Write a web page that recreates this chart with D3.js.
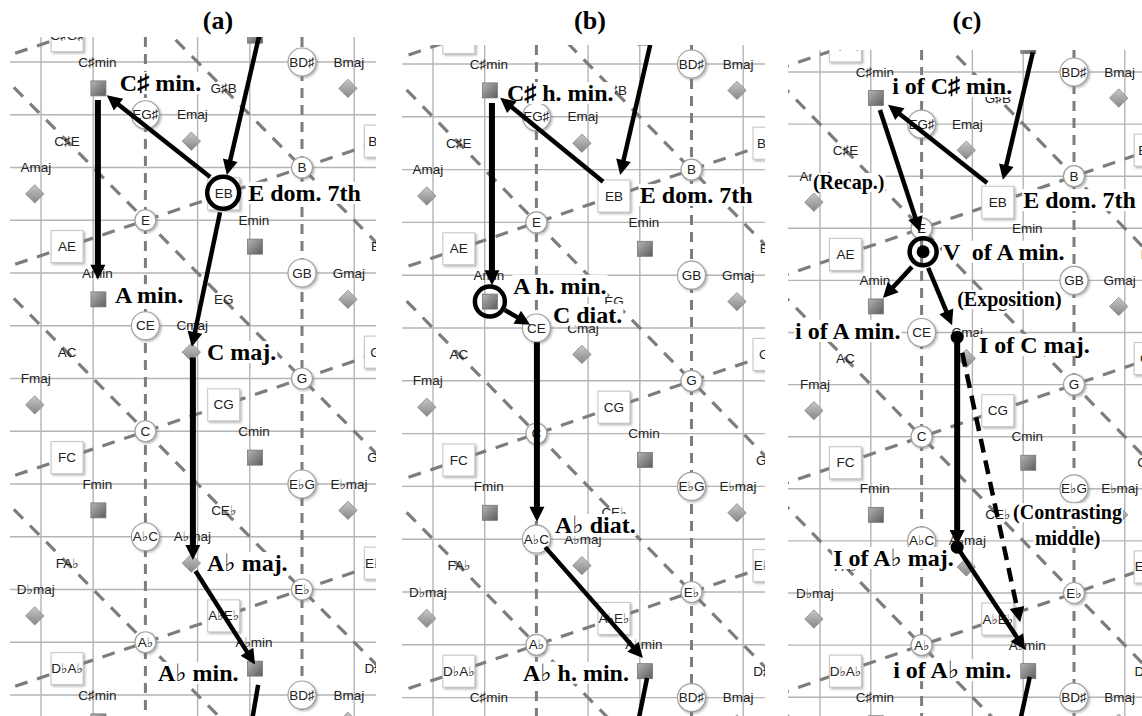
<!DOCTYPE html>
<html>
<head>
<meta charset="utf-8">
<script src="https://cdn.jsdelivr.net/npm/d3@7"></script>
<style>
  body { margin: 0; background: #fff; }
  svg { display: block; }
</style>
</head>
<body>
<svg id="chart" width="1142" height="716"></svg>
<script>
// ---- lattice content, in lattice units (u = column, v = row) ----
const gridCols = [0, 1, 2, 3, 4, 5, 6];
const gridRows = [0, 1, 2, 3, 4, 5, 6, 7, 8, 9, 10, 11, 12];
const dashedCols = [2, 5];
const thirdAxes = [-7, -3, 1, 5, 9, 13];              // descending lines: v - u = k
const fifthAxes = [-0.33, 3.67, 7.67, 11.67, 15.67];  // ascending lines: v + u/3 = k

const minorChords = [["C♯min", 1, 0], ["Amin", 1, 4], ["Fmin", 1, 8], ["C♯min", 1, 12],
  ["G♯min", 4, -1], ["Emin", 4, 3], ["Cmin", 4, 7], ["A♭min", 4, 11]];
const majorChords = [["Bmaj", 6, 0], ["Emaj", 3, 1], ["Amaj", 0, 2], ["Gmaj", 6, 4],
  ["Cmaj", 3, 5], ["Fmaj", 0, 6], ["E♭maj", 6, 8], ["A♭maj", 3, 9], ["D♭maj", 0, 10], ["Bmaj", 6, 12]];
const fifthBoxes = [["C♯G♯", 0.5, -0.5], ["AE", 0.5, 3.5], ["FC", 0.5, 7.5], ["D♭A♭", 0.5, 11.5],
  ["EB", 3.5, 2.5], ["CG", 3.5, 6.5], ["A♭E♭", 3.5, 10.5],
  ["BF♯", 6.5, 1.5], ["GD", 6.5, 5.5], ["E♭B♭", 6.5, 9.5]];
const minorThirds = [["C♯E", 0.5, 1.5], ["AC", 0.5, 5.5], ["FA♭", 0.5, 9.5],
  ["G♯B", 3.5, 0.5], ["EG", 3.5, 4.5], ["CE♭", 3.5, 8.5],
  ["BD", 6.5, 3.5], ["GB♭", 6.5, 7.5], ["D♯F♯", 6.5, 11.5]];
const noteCircles = [["EG♯", 2, 1], ["E", 2, 3], ["CE", 2, 5], ["C", 2, 7], ["A♭C", 2, 9], ["A♭", 2, 11],
  ["BD♯", 5, 0], ["B", 5, 2], ["GB", 5, 4], ["G", 5, 6], ["E♭G", 5, 8], ["E♭", 5, 10], ["BD♯", 5, 12]];

// ---- paths: [kind, u1, v1, u2, v2] ----
const arrowsA = [
  ["solid", 4.18, -0.5, 3.56, 2.14],
  ["solid", 3.24, 2.18, 1.26, 0.63],
  ["solid", 3.43, 2.85, 2.89, 5.4],
  ["heavy", 1.09, 0.72, 1.09, 4.13],
  ["heavy", 2.91, 5.6, 2.91, 9.44],
  ["solid", 2.96, 9.65, 4.1, 11.42],
  ["tail", 4.16, 11.81, 4.04, 12.5]
];
const arrowsB = [
  ["solid", 4.2, -0.36, 3.62, 2.1],
  ["solid", 3.29, 2.23, 1.3, 0.64],
  ["heavy", 1.14, 0.74, 1.14, 4.19],
  ["solid", 1.39, 4.66, 1.88, 4.94],
  ["heavy", 2.01, 5.27, 2.01, 8.67],
  ["solid", 2.17, 9.15, 4.06, 11.25],
  ["tail", 4.14, 11.63, 3.97, 12.45]
];
const arrowsC = [
  ["solid", 4.19, -0.38, 3.6, 2.07],
  ["solid", 3.29, 2.13, 1.34, 0.63],
  ["solid", 1.18, 0.73, 1.97, 3.07],
  ["solid", 1.81, 3.74, 1.24, 4.34],
  ["solid", 2.13, 3.76, 2.6, 4.86],
  ["heavy", 2.7, 5.15, 2.7, 9.08],
  ["solid", 2.76, 9.21, 4.04, 11.09],
  ["dashed", 2.8, 5.39, 3.94, 10.56],
  ["tail", 4.13, 11.61, 3.94, 12.45]
];

// ---- annotations: [text, u, v] (left edge, vertical centre) ----
const labelsA = [["C♯ min.", 1.51, 0.4], ["E dom. 7th", 3.97, 2.48], ["A min.", 1.42, 4.42],
  ["C maj.", 3.18, 5.5], ["A♭ maj.", 3.18, 9.5], ["A♭ min.", 2.24, 11.58]];
const labelsB = [["C♯ h. min.", 1.43, 0.55], ["E dom. 7th", 4.0, 2.48], ["A h. min.", 1.55, 4.2],
  ["C diat.", 2.32, 4.75], ["A♭ diat.", 2.36, 8.73], ["A♭ h. min.", 1.74, 11.53]];
const labelsC = [["i of C♯ min.", 1.42, 0.27], ["(Recap.)", -0.14, 2.11], ["E dom. 7th", 4.0, 2.46],
  ["V  of A min.", 2.42, 3.45], ["(Exposition)", 2.7, 4.36], ["i of A min.", -0.49, 4.97],
  ["I of C maj.", 3.13, 5.24], ["(Contrasting", 3.8, 8.45], ["middle)", 4.23, 8.94],
  ["I of A♭ maj.", 0.26, 9.33], ["i of A♭ min.", 1.44, 11.48]];

const ringsA = [[3.49, 2.48]];
const ringsB = [[1.1, 4.5]];
const ringsC = [[2.03, 3.45]];
const dotsC = [[2.03, 3.45], [2.7, 5.09], [2.7, 9.12]];

const panels = [
  { title: "(a)", tx: 218, left: 10, right: 376, top: 37, x0: 41, dx: 52.2, y0: 62, dy: 52.75,
    arrows: arrowsA, labels: labelsA, rings: ringsA, dots: [], ringR: 16 },
  { title: "(b)", tx: 590, left: 402, right: 765, top: 45, x0: 433, dx: 51.7, y0: 64, dy: 52.8,
    arrows: arrowsB, labels: labelsB, rings: ringsB, dots: [], ringR: 15 },
  { title: "(c)", tx: 967, left: 788, right: 1142, top: 50, x0: 820, dx: 50.8, y0: 72, dy: 52.1,
    arrows: arrowsC, labels: labelsC, rings: ringsC, dots: dotsC, ringR: 13.5 }
];

const H = 716;
const smallFont = "'Liberation Sans', 'DejaVu Sans', sans-serif";
const boldFont = "'Liberation Serif', 'DejaVu Serif', serif";
const smallSize = "13.5px";

const svg = d3.select("#chart");
const defs = svg.append("defs");

const sq = defs.append("linearGradient").attr("id", "sqGrad")
  .attr("x1", 0).attr("y1", 0).attr("x2", 1).attr("y2", 1);
sq.append("stop").attr("offset", "0%").attr("stop-color", "#b4b4b4");
sq.append("stop").attr("offset", "100%").attr("stop-color", "#5c5c5c");

const dm = defs.append("linearGradient").attr("id", "dmGrad")
  .attr("x1", 0).attr("y1", 0).attr("x2", 1).attr("y2", 1);
dm.append("stop").attr("offset", "0%").attr("stop-color", "#c8c8c8");
dm.append("stop").attr("offset", "100%").attr("stop-color", "#868686");

const shadow = defs.append("filter").attr("id", "shadow")
  .attr("x", "-30%").attr("y", "-30%").attr("width", "160%").attr("height", "160%");
shadow.append("feDropShadow").attr("dx", 1.5).attr("dy", 1.5).attr("stdDeviation", 1.2)
  .attr("flood-color", "#777").attr("flood-opacity", 0.55);

panels.forEach((p, i) => {
  const x = d3.scaleLinear().domain([0, 1]).range([p.x0, p.x0 + p.dx]);
  const y = d3.scaleLinear().domain([0, 1]).range([p.y0, p.y0 + p.dy]);

  svg.append("text")
    .attr("x", p.tx).attr("y", 29)
    .attr("text-anchor", "middle")
    .attr("font-family", boldFont).attr("font-weight", "bold").attr("font-size", "26px")
    .text(p.title);

  defs.append("clipPath").attr("id", "clip" + i)
    .append("rect").attr("x", p.left).attr("y", p.top)
    .attr("width", p.right - p.left).attr("height", H - p.top);

  const g = svg.append("g").attr("clip-path", "url(#clip" + i + ")");

  // grid
  g.selectAll(".vgrid").data(gridCols.filter(c => !dashedCols.includes(c))).enter()
    .append("line")
    .attr("x1", d => x(d)).attr("x2", d => x(d))
    .attr("y1", p.top).attr("y2", H)
    .attr("stroke", "#b4b4b4").attr("stroke-width", 1.4);

  g.selectAll(".hgrid").data(gridRows).enter()
    .append("line")
    .attr("x1", p.left).attr("x2", p.right)
    .attr("y1", d => y(d)).attr("y2", d => y(d))
    .attr("stroke", "#b4b4b4").attr("stroke-width", 1.4);

  g.selectAll(".dcol").data(dashedCols).enter()
    .append("line")
    .attr("x1", d => x(d)).attr("x2", d => x(d))
    .attr("y1", p.top).attr("y2", H)
    .attr("stroke", "#7d7d7d").attr("stroke-width", 3)
    .attr("stroke-dasharray", "10 7");

  // diagonal axes
  g.selectAll(".third").data(thirdAxes).enter()
    .append("line")
    .attr("x1", x(-3)).attr("y1", d => y(d - 3))
    .attr("x2", x(9)).attr("y2", d => y(d + 9))
    .attr("stroke", "#7d7d7d").attr("stroke-width", 3.2)
    .attr("stroke-dasharray", "13 10");

  g.selectAll(".fifth").data(fifthAxes).enter()
    .append("line")
    .attr("x1", x(-3)).attr("y1", d => y(d + 1))
    .attr("x2", x(9)).attr("y2", d => y(d - 3))
    .attr("stroke", "#7d7d7d").attr("stroke-width", 3.2)
    .attr("stroke-dasharray", "13 10");

  // major chords (diamonds)
  g.selectAll(".maj").data(majorChords).enter()
    .append("rect")
    .attr("x", -6.5).attr("y", -6.5).attr("width", 13).attr("height", 13)
    .attr("transform", d => `translate(${x(d[1] - 0.12)},${y(d[2] + 0.5)}) rotate(45)`)
    .attr("fill", "url(#dmGrad)").attr("stroke", "#8c8c8c").attr("stroke-width", 0.8);

  g.selectAll(".majl").data(majorChords).enter()
    .append("text")
    .attr("x", d => x(d[1] - 0.1)).attr("y", d => y(d[2]))
    .attr("text-anchor", "middle").attr("dominant-baseline", "central")
    .attr("font-family", smallFont).attr("font-size", smallSize).attr("fill", "#222")
    .text(d => d[0]);

  // minor chords (squares)
  g.selectAll(".min").data(minorChords).enter()
    .append("rect")
    .attr("x", d => x(d[1] + 0.1) - 7.5).attr("y", d => y(d[2] + 0.5) - 7.5)
    .attr("width", 15).attr("height", 15)
    .attr("fill", "url(#sqGrad)").attr("stroke", "#777").attr("stroke-width", 0.8);

  g.selectAll(".minl").data(minorChords).enter()
    .append("text")
    .attr("x", d => x(d[1] + 0.08)).attr("y", d => y(d[2]))
    .attr("text-anchor", "middle").attr("dominant-baseline", "central")
    .attr("font-family", smallFont).attr("font-size", smallSize).attr("fill", "#222")
    .text(d => d[0]);

  // fifth dyads (boxes)
  const box = g.selectAll(".box").data(fifthBoxes).enter().append("g")
    .attr("transform", d => `translate(${x(d[1])},${y(d[2])})`);
  box.append("rect")
    .attr("x", -16).attr("y", -16).attr("width", 32).attr("height", 32)
    .attr("fill", "#fff").attr("stroke", "#c4c4c4").attr("stroke-width", 1)
    .attr("filter", "url(#shadow)");
  box.append("text")
    .attr("text-anchor", "middle").attr("dominant-baseline", "central")
    .attr("font-family", smallFont).attr("font-size", smallSize).attr("fill", "#222")
    .text(d => d[0]);

  // minor-third dyads (plain text)
  g.selectAll(".m3").data(minorThirds).enter()
    .append("text")
    .attr("x", d => x(d[1])).attr("y", d => y(d[2]))
    .attr("text-anchor", "middle").attr("dominant-baseline", "central")
    .attr("font-family", smallFont).attr("font-size", smallSize).attr("fill", "#222")
    .text(d => d[0]);

  // notes and major-third dyads (circles)
  const circ = g.selectAll(".note").data(noteCircles).enter().append("g")
    .attr("transform", d => `translate(${x(d[1])},${y(d[2])})`);
  circ.append("circle")
    .attr("r", d => d[0].replace(/[♭♯]/g, "").length > 1 ? 14 : 10.5)
    .attr("fill", "#fff").attr("stroke", "#a0a0a0").attr("stroke-width", 1.2)
    .attr("filter", "url(#shadow)");
  circ.append("text")
    .attr("text-anchor", "middle").attr("dominant-baseline", "central")
    .attr("font-family", smallFont).attr("font-size", smallSize).attr("fill", "#222")
    .text(d => d[0]);

  // bold annotations with white background
  p.labels.forEach(d => {
    const small = d[0].startsWith("(") || d[0].endsWith(")");
    const lg = g.append("g");
    const bg = lg.append("rect").attr("fill", "#fff");
    const t = lg.append("text")
      .attr("x", x(d[1])).attr("y", y(d[2]))
      .attr("dominant-baseline", "central")
      .attr("font-family", boldFont).attr("font-weight", "bold")
      .attr("font-size", small ? "20px" : "24px")
      .attr("fill", "#000")
      .style("white-space", "pre")
      .text(d[0]);
    const bb = t.node().getBBox();
    bg.attr("x", bb.x - 1).attr("y", bb.y + 2).attr("width", bb.width + 2).attr("height", bb.height - 4);
  });

  // arrows
  p.arrows.forEach(d => {
    const [kind, u1, v1, u2, v2] = d;
    const x1 = x(u1), y1 = y(v1), x2 = x(u2), y2 = y(v2);
    const len = Math.hypot(x2 - x1, y2 - y1);
    const ux = (x2 - x1) / len, uy = (y2 - y1) / len;
    const w = kind === "heavy" ? 6 : 4.5;
    const hl = kind === "tail" ? 0 : 15;
    const hw = 7.5;
    g.append("line")
      .attr("x1", x1).attr("y1", y1)
      .attr("x2", x2 - ux * hl * 0.85).attr("y2", y2 - uy * hl * 0.85)
      .attr("stroke", "#000").attr("stroke-width", w)
      .attr("stroke-dasharray", kind === "dashed" ? "14 8" : null);
    if (kind !== "tail") {
      const bx = x2 - ux * hl, by = y2 - uy * hl;
      g.append("polygon")
        .attr("points", [[x2, y2], [bx - uy * hw, by + ux * hw], [bx + uy * hw, by - ux * hw]]
          .map(q => q.join(",")).join(" "))
        .attr("fill", "#000");
    }
  });

  // highlight rings and dots
  g.selectAll(".ring").data(p.rings).enter()
    .append("circle")
    .attr("cx", d => x(d[0])).attr("cy", d => y(d[1])).attr("r", p.ringR)
    .attr("fill", "none").attr("stroke", "#000").attr("stroke-width", 4.5);

  g.selectAll(".dot").data(p.dots).enter()
    .append("circle")
    .attr("cx", d => x(d[0])).attr("cy", d => y(d[1])).attr("r", 6.5)
    .attr("fill", "#000");
});
</script>
</body>
</html>
